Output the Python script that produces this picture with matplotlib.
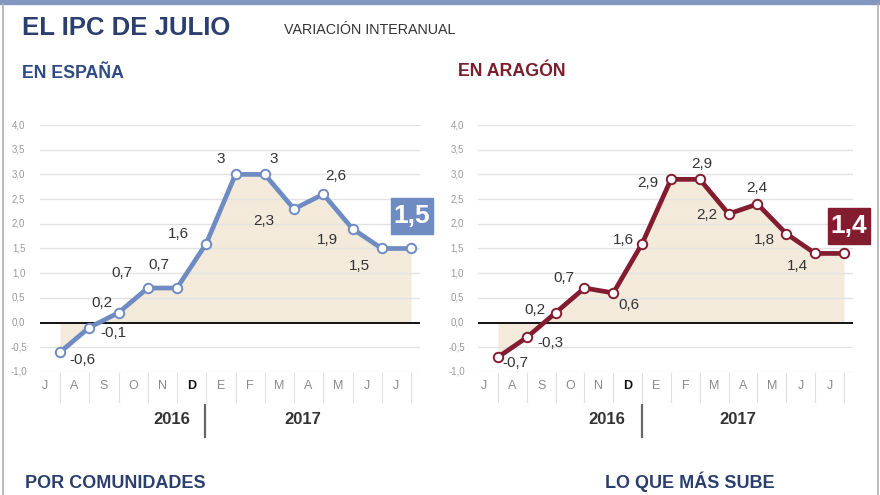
import matplotlib
matplotlib.use("Agg")
from matplotlib import pyplot as plt
from matplotlib.patches import Rectangle
from matplotlib.lines import Line2D

plt.rcParams["font.family"] = ["Liberation Sans", "DejaVu Sans"]

# datos
meses = ["J", "A", "S", "O", "N", "D", "E", "F", "M", "A", "M", "J", "J"]
espana = [-0.6, -0.1, 0.2, 0.7, 0.7, 1.6, 3, 3, 2.3, 2.6, 1.9, 1.5, 1.5]
aragon = [-0.7, -0.3, 0.2, 0.7, 0.6, 1.6, 2.9, 2.9, 2.2, 2.4, 1.8, 1.4, 1.4]
y_ticks = [-1.0, -0.5, 0.0, 0.5, 1.0, 1.5, 2.0, 2.5, 3.0, 3.5, 4.0]

# desplazamiento de cada etiqueta (pixeles)
off_espana = [(22, -8), (24, -5), (-17, 10), (-26, 15), (-18, 23), (-28, 10),
              (-15, 15), (9, 15), (-30, -12), (13, 18), (-25, -11), (-22, -17), None]
off_aragon = [(17, -6), (24, -6), (-21, 3), (-21, 10), (16, -12), (-19, 4),
              (-23, -4), (2, 15), (-22, -1), (-1, 16), (-22, -6), (-18, -13), None]

W, H = 880, 495
NAVY = "#2b3f6e"
BLUE = "#6f8cc2"
RED = "#841c30"
FILL = "#f3eadb"

fig = plt.figure(figsize=(8.8, 4.95), dpi=100)
fig.patch.set_facecolor("white")


def fmt(v):
    s = ("%g" % v).replace(".", ",")
    return s


def px(x, y):
    return x / W, 1 - y / H


# marco
fig.patches.append(Rectangle((0, 1 - 4 / H), 1, 4 / H, transform=fig.transFigure,
                             color="#8497c1", zorder=0))
fig.lines.append(Line2D([2.5 / W] * 2, [0, 1 - 4 / H], transform=fig.transFigure,
                        color="#b0b0b0", lw=1.2))
fig.lines.append(Line2D([877.5 / W] * 2, [0, 1 - 4 / H], transform=fig.transFigure,
                        color="#b0b0b0", lw=1.2))

fig.text(*px(22, 28), "EL IPC DE JULIO", fontsize=18.5, fontweight="bold",
         color=NAVY, va="center")
fig.text(*px(284, 30), "VARIACIÓN INTERANUAL", fontsize=10.3, color="#333333",
         va="center")
fig.text(*px(22, 73), "EN ESPAÑA", fontsize=12.8, fontweight="bold",
         color="#2f4a84", va="center")
fig.text(*px(458, 71), "EN ARAGÓN", fontsize=12.8, fontweight="bold",
         color="#7a1f2b", va="center")
fig.text(*px(25, 484), "POR COMUNIDADES", fontsize=13, fontweight="bold",
         color=NAVY, va="center")
fig.text(*px(605, 482), "LO QUE MÁS SUBE", fontsize=13, fontweight="bold",
         color=NAVY, va="center")


def panel(x0, step, values, color, offsets, box_xy, label_x):
    left = x0 - 0.7 * step
    width = 13 * step
    top, bottom = 125, 372
    ax = fig.add_axes([left / W, 1 - bottom / H, width / W, (bottom - top) / H])
    ax.set_xlim(-0.7, 12.3)
    ax.set_ylim(-1.0, 4.0)
    ax.axis("off")
    x = list(range(len(values)))

    for t in y_ticks:
        if t != 0:
            ax.axhline(t, color="#e2e2e2", lw=1, zorder=1)
        ax.text(label_x, t, ("%.1f" % t).replace(".", ","), transform=ax.get_yaxis_transform(),
                ha="center", va="center", fontsize=7, color="#9a9a9a")

    ax.fill_between(x, values, 0, color=FILL, lw=0, zorder=0)
    ax.axhline(0, color="#111111", lw=1.4, zorder=2)
    ax.plot(x, values, color=color, lw=3.4, marker="o", markersize=6.8,
            markerfacecolor="white", markeredgecolor=color, markeredgewidth=1.4,
            zorder=3, solid_joinstyle="round")

    for i, v in enumerate(values):
        if offsets[i] is None:
            continue
        ax.annotate(fmt(v), (i, v), xytext=offsets[i], textcoords="offset pixels",
                    ha="center", va="center", fontsize=11, color="#333333")

    # meses
    for i, m in enumerate(meses):
        ax.text(i - 0.5, -1.28, m, ha="center", va="center", fontsize=9,
                color="#111111" if i == 5 else "#8a8a8a",
                fontweight="bold" if i == 5 else "normal", clip_on=False)
        ax.plot([i, i], [-1.02, -1.6], color="#e0e0e0", lw=0.9, clip_on=False)

    # caja del último dato
    bx, by = box_xy
    fig.patches.append(Rectangle(((bx - 21) / W, 1 - (by + 18) / H), 42 / W, 36 / H,
                                 transform=fig.transFigure, color=color, zorder=5))
    fig.text(bx / W, 1 - by / H, fmt(values[-1]), ha="center", va="center",
             fontsize=19, fontweight="bold", color="white", zorder=6)
    return ax


panel(60, 29.25, espana, BLUE, off_espana, (412, 216), -0.055)
panel(498, 28.83, aragon, RED, off_aragon, (849, 226), -0.055)

# años
for c16, bar, c17 in [(172, 205, 303), (607, 642, 738)]:
    fig.text(*px(c16, 420), "2016", ha="center", va="center", fontsize=12,
             fontweight="bold", color="#333333")
    fig.text(*px(c17, 420), "2017", ha="center", va="center", fontsize=12,
             fontweight="bold", color="#333333")
    fig.lines.append(Line2D([bar / W] * 2, [1 - 437 / H, 1 - 405 / H],
                            transform=fig.transFigure, color="#666666", lw=1.6))

fig.savefig("out.png", dpi=100)
